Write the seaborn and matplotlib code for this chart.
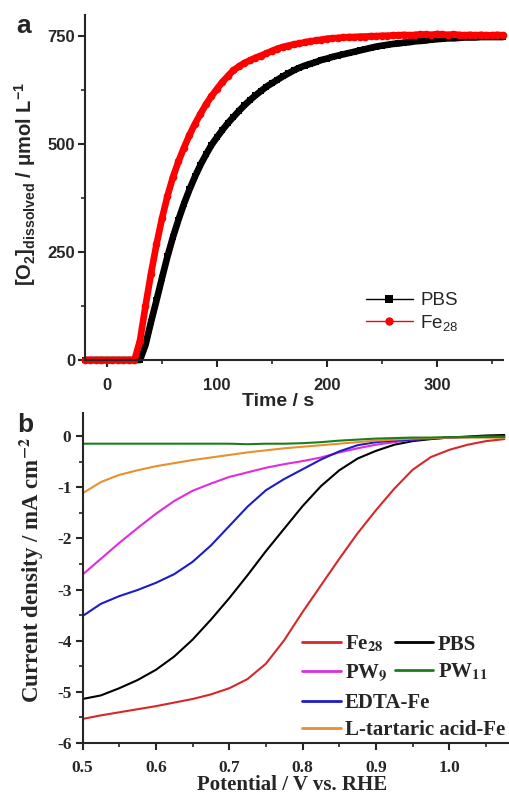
import numpy as np
import pandas as pd
import matplotlib
matplotlib.use("Agg")
import matplotlib.pyplot as plt
from matplotlib.ticker import MultipleLocator
from matplotlib.font_manager import FontProperties
import seaborn as sns

# ---------------- panel a: dissolved O2 versus time ----------------
time_s = np.arange(-20, 361, 5)

o2_pbs = [0, 0, 0, 0, 0, 0, 0, 0, 0, 0, 0,
          35, 88, 138, 190, 240, 285, 325, 362, 395, 425,
          452, 476, 498, 516, 533, 549, 563, 577, 590, 602,
          613, 623, 633, 641, 649, 657, 664, 671, 677, 682,
          686, 690, 695, 698, 702, 705, 708, 711, 714, 717,
          720, 723, 726, 728, 730, 732, 733, 735, 736, 738,
          739, 740, 742, 743, 744, 745, 745, 746, 747, 747,
          747, 748, 748, 748, 748, 748]

o2_fe28 = [0, 0, 0, 0, 0, 0, 0, 0, 0, 0,
           45, 125, 200, 268, 328, 380, 424, 460, 492, 521,
           547, 570, 592, 611, 628, 644, 658, 671, 680, 688,
           694, 700, 705, 710, 716, 721, 725, 728, 731, 733,
           736, 738, 740, 742, 744, 745, 746, 747, 748, 748,
           749, 749, 750, 750, 751, 751, 752,
           752, 753, 752, 753, 754, 754, 753, 755, 754, 753,
           754, 753, 752, 753, 752, 753, 752, 752, 753, 752]

# ---------------- panel b: polarisation curves ----------------
potential = [0.500, 0.525, 0.550, 0.575, 0.600, 0.625, 0.650, 0.675,
             0.700, 0.725, 0.750, 0.775, 0.800, 0.825, 0.850, 0.875,
             0.900, 0.925, 0.950, 0.975, 1.000, 1.025, 1.050, 1.075]

j_fe28 = [-5.53, -5.46, -5.40, -5.34, -5.28, -5.21, -5.14, -5.05,
          -4.93, -4.75, -4.45, -3.99, -3.44, -2.92, -2.40, -1.90,
          -1.45, -1.03, -0.66, -0.41, -0.27, -0.17, -0.10, -0.06]
j_pbs = [-5.14, -5.07, -4.93, -4.77, -4.57, -4.31, -3.98, -3.59,
         -3.17, -2.72, -2.25, -1.81, -1.37, -0.98, -0.67, -0.44,
         -0.29, -0.17, -0.10, -0.06, -0.03, -0.01, 0.01, 0.02]
j_pw9 = [-2.71, -2.40, -2.09, -1.80, -1.52, -1.27, -1.07, -0.93,
         -0.80, -0.71, -0.62, -0.55, -0.49, -0.42, -0.32, -0.24,
         -0.17, -0.12, -0.07, -0.05, -0.03, -0.02, -0.01, -0.01]
j_pw11 = [-0.15, -0.15, -0.15, -0.15, -0.15, -0.15, -0.15, -0.15,
          -0.15, -0.16, -0.15, -0.15, -0.14, -0.12, -0.09, -0.07,
          -0.05, -0.04, -0.03, -0.03, -0.02, -0.02, -0.02, -0.02]
j_edta = [-3.52, -3.28, -3.13, -3.01, -2.87, -2.70, -2.46, -2.14,
          -1.76, -1.38, -1.06, -0.84, -0.65, -0.46, -0.30, -0.18,
          -0.12, -0.09, -0.07, -0.05, -0.03, -0.02, -0.01, 0.00]
j_tart = [-1.12, -0.90, -0.76, -0.67, -0.59, -0.53, -0.47, -0.42,
          -0.37, -0.32, -0.28, -0.24, -0.21, -0.18, -0.15, -0.12,
          -0.09, -0.07, -0.05, -0.04, -0.03, -0.03, -0.03, -0.03]

a_xticks = [0, 100, 200, 300]
a_yticks = [0, 250, 500, 750]
b_xticks = [0.5, 0.6, 0.7, 0.8, 0.9, 1.0]
b_xticklabels = ["0.5", "0.6", "0.7", "0.8", "0.9", "1.0"]
b_yticks = [0, -1, -2, -3, -4, -5, -6]
b_yticklabels = ["0", "-1", "-2", "-3", "-4", "-5", "-6"]

sns.set_style("ticks")
plt.rcParams.update({
    "font.family": ["Liberation Sans", "DejaVu Sans"],
    "mathtext.fontset": "custom",
    "mathtext.rm": "Liberation Sans",
    "mathtext.it": "Liberation Sans:italic",
    "mathtext.bf": "Liberation Sans:bold",
    "mathtext.sf": "Liberation Sans",
    "axes.linewidth": 1.5,
})

W, H = 510, 798
fig = plt.figure(figsize=(W / 100, H / 100), dpi=100)

def fig_rect(left, top, right, bottom):
    return [left / W, 1 - bottom / H, (right - left) / W, (bottom - top) / H]

# ================= panel a =================
ax1 = fig.add_axes(fig_rect(85, 15, 503, 360))
df_a = pd.DataFrame({"t": np.concatenate([time_s, time_s]),
                     "o2": np.concatenate([o2_pbs, o2_fe28]),
                     "sample": ["PBS"] * len(time_s) + ["Fe28"] * len(time_s)})

sns.lineplot(data=df_a[df_a["sample"] == "PBS"], x="t", y="o2", ax=ax1,
             color="black", marker="s", markersize=5, markeredgewidth=0,
             linewidth=4.8, label="PBS", clip_on=False)
sns.lineplot(data=df_a[df_a["sample"] == "Fe28"], x="t", y="o2", ax=ax1,
             color="#ff0000", marker="o", markersize=5.5, markeredgewidth=0,
             linewidth=4.8, label="Fe$_{28}$", clip_on=False)

ax1.set_xlim(-20, 360)
ax1.set_ylim(0, 799)
sans_tick = FontProperties(family="Liberation Sans", weight="bold", size=12)
ax1.set_xticks(a_xticks, labels=[str(v) for v in a_xticks])
ax1.set_yticks(a_yticks, labels=[str(v) for v in a_yticks])
for lbl in ax1.get_xticklabels() + ax1.get_yticklabels():
    lbl.set_fontproperties(sans_tick)
ax1.xaxis.set_minor_locator(MultipleLocator(50))
ax1.yaxis.set_minor_locator(MultipleLocator(125))
ax1.tick_params(which="major", direction="out", length=5, width=1.5)
ax1.tick_params(which="minor", direction="out", length=3, width=1.2)
ax1.tick_params(axis="x", which="major", pad=8)
ax1.tick_params(axis="y", which="major", pad=2)
sns.despine(ax=ax1)

ax1.set_xlabel("Time / s", fontfamily="Liberation Sans", fontweight="bold", fontsize=14)
ax1.xaxis.set_label_coords(0.462, -0.095)
ax1.set_ylabel(r"[O$_\mathbf{2}$]$_\mathbf{dissolved}$ / μmol L$^\mathbf{-1}$",
               fontfamily="Liberation Sans", fontweight="bold", fontsize=14.5)
ax1.yaxis.set_label_coords(-0.112, 0.51)

if ax1.get_legend() is not None:
    ax1.get_legend().remove()
h1, l1 = ax1.get_legend_handles_labels()
leg1 = ax1.legend(h1, l1, loc="upper left", bbox_to_anchor=(366 / W, 1 - 292 / H),
                  bbox_transform=fig.transFigure, frameon=False,
                  prop=FontProperties(family="Liberation Sans", size=13.5),
                  handlelength=2.5, handletextpad=0.4, labelspacing=0.2,
                  borderpad=0, borderaxespad=0)
for ln in leg1.get_lines():
    ln.set_linewidth(1.0)
    ln.set_markersize(6)

fig.text(16 / W, 1 - 33 / H, "a", fontfamily="Liberation Sans", fontweight="bold",
         fontsize=19, va="baseline", ha="left")

# ================= panel b =================
ax2 = fig.add_axes(fig_rect(82.5, 413, 508, 743))
series_b = [
    ("Fe$_\\mathbf{28}$", j_fe28, "#d8262a"),
    ("PBS", j_pbs, "#000000"),
    ("PW$_\\mathbf{9}$", j_pw9, "#e02ce0"),
    ("EDTA-Fe", j_edta, "#1c1cc8"),
    ("L-tartaric acid-Fe", j_tart, "#e8902c"),
    ("PW$_\\mathbf{11}$", j_pw11, "#1d7d1d"),
]
for name, vals, col in series_b:
    sns.lineplot(x=potential, y=vals, ax=ax2, color=col, linewidth=1.5,
                 label=name, sort=False)

ax2.set_xlim(0.5, 1.08)
ax2.set_ylim(-6, 0.45)
serif_tick = FontProperties(family="Liberation Serif", weight="bold", size=12.5)
ax2.set_xticks(b_xticks, labels=b_xticklabels)
ax2.set_yticks(b_yticks, labels=b_yticklabels)
for lbl in ax2.get_xticklabels() + ax2.get_yticklabels():
    lbl.set_fontproperties(serif_tick)
ax2.xaxis.set_minor_locator(MultipleLocator(0.05))
ax2.yaxis.set_minor_locator(MultipleLocator(0.5))
ax2.tick_params(which="major", direction="out", length=5, width=1.5)
ax2.tick_params(which="minor", direction="out", length=3, width=1.2)
ax2.tick_params(axis="x", which="major", pad=7)
ax2.tick_params(axis="y", which="major", pad=3)
sns.despine(ax=ax2)

ax2.set_xlabel("Potential / V vs. RHE", fontfamily="Liberation Serif",
               fontweight="bold", fontsize=15)
ax2.xaxis.set_label_coords(0.492, -0.098)
ax2.set_ylabel(r"Current density / mA cm$^\mathbf{-2}$", fontfamily="Liberation Serif",
               fontweight="bold", fontsize=16.5, math_fontfamily="stix")
ax2.yaxis.set_label_coords(-0.085, 0.525)

if ax2.get_legend() is not None:
    ax2.get_legend().remove()
hb, lb = ax2.get_legend_handles_labels()
hmap = dict(zip(lb, hb))
fp_b = FontProperties(family="Liberation Serif", weight="bold", size=15,
                      math_fontfamily="stix")
order_top = ["Fe$_\\mathbf{28}$", "PW$_\\mathbf{9}$", "PBS", "PW$_\\mathbf{11}$"]
leg_b1 = ax2.legend([hmap[k] for k in order_top], order_top, ncol=2,
                    loc="upper left", bbox_to_anchor=(302 / W, 1 - 634 / H),
                    bbox_transform=fig.transFigure, frameon=False, prop=fp_b,
                    handlelength=1.85, handletextpad=0.2, columnspacing=0.35,
                    labelspacing=0.35, borderpad=0, borderaxespad=0)
ax2.add_artist(leg_b1)
order_bot = ["EDTA-Fe", "L-tartaric acid-Fe"]
leg_b2 = ax2.legend([hmap[k] for k in order_bot], order_bot,
                    loc="upper left", bbox_to_anchor=(302 / W, 1 - 693 / H),
                    bbox_transform=fig.transFigure, frameon=False, prop=fp_b,
                    handlelength=1.85, handletextpad=0.2,
                    labelspacing=0.35, borderpad=0, borderaxespad=0)
for lg in (leg_b1, leg_b2):
    for ln in lg.get_lines():
        ln.set_linewidth(2.0)

fig.text(17 / W, 1 - 432 / H, "b", fontfamily="Liberation Sans", fontweight="bold",
         fontsize=19, va="baseline", ha="left")

fig.savefig("out.png", dpi=100)
